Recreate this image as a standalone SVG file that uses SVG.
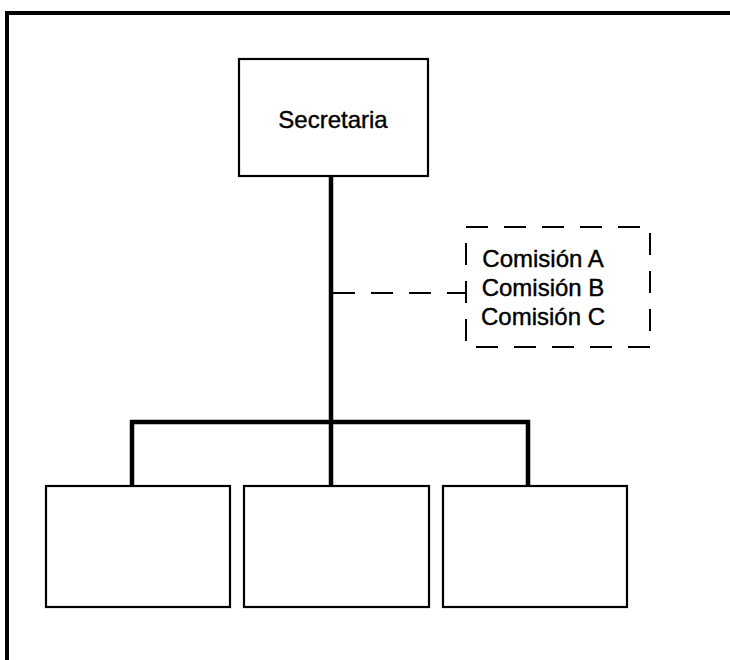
<svg xmlns="http://www.w3.org/2000/svg" width="730" height="660" viewBox="0 0 730 660">
  <style>
    .box { fill: #fff; stroke: #000; stroke-width: 2.2; }
    .dash { fill: none; stroke: #000; stroke-width: 2; stroke-dasharray: 22 16; }
    .link { fill: none; stroke: #000; stroke-width: 4.5; stroke-linecap: square; }
    .frame { fill: none; stroke: #000; stroke-width: 4; }
    text { font-family: "Liberation Sans", Arial, sans-serif; fill: #000; text-anchor: middle; stroke: #000; stroke-width: 0.4; }
    .lbl { font-size: 24px; }
  </style>
  <rect width="730" height="660" fill="#fff"/>
  <!-- page frame (top and left edges) -->
  <path class="frame" d="M7,660 V13 H730"/>

  <g id="connectors">
    <path class="link" d="M331,176 V486"/>
    <path class="link" d="M132,486 V422 H528 V486"/>
    <path class="dash" d="M333,293 H466" stroke-dasharray="22 16"/>
  </g>

  <g id="secretaria">
    <rect class="box" x="239" y="59" width="189" height="117"/>
    <text class="lbl" x="333" y="128">Secretaria</text>
  </g>

  <g id="comisiones">
    <rect class="dash" x="466" y="227" width="184" height="120"/>
    <text class="lbl" x="543" y="267">Comisión A</text>
    <text class="lbl" x="543" y="296">Comisión B</text>
    <text class="lbl" x="543" y="325">Comisión C</text>
  </g>

  <g id="unidad-1">
    <rect class="box" x="46" y="486" width="184" height="121"/>
  </g>
  <g id="unidad-2">
    <rect class="box" x="244" y="486" width="185" height="121"/>
  </g>
  <g id="unidad-3">
    <rect class="box" x="443" y="486" width="184" height="121"/>
  </g>
</svg>
